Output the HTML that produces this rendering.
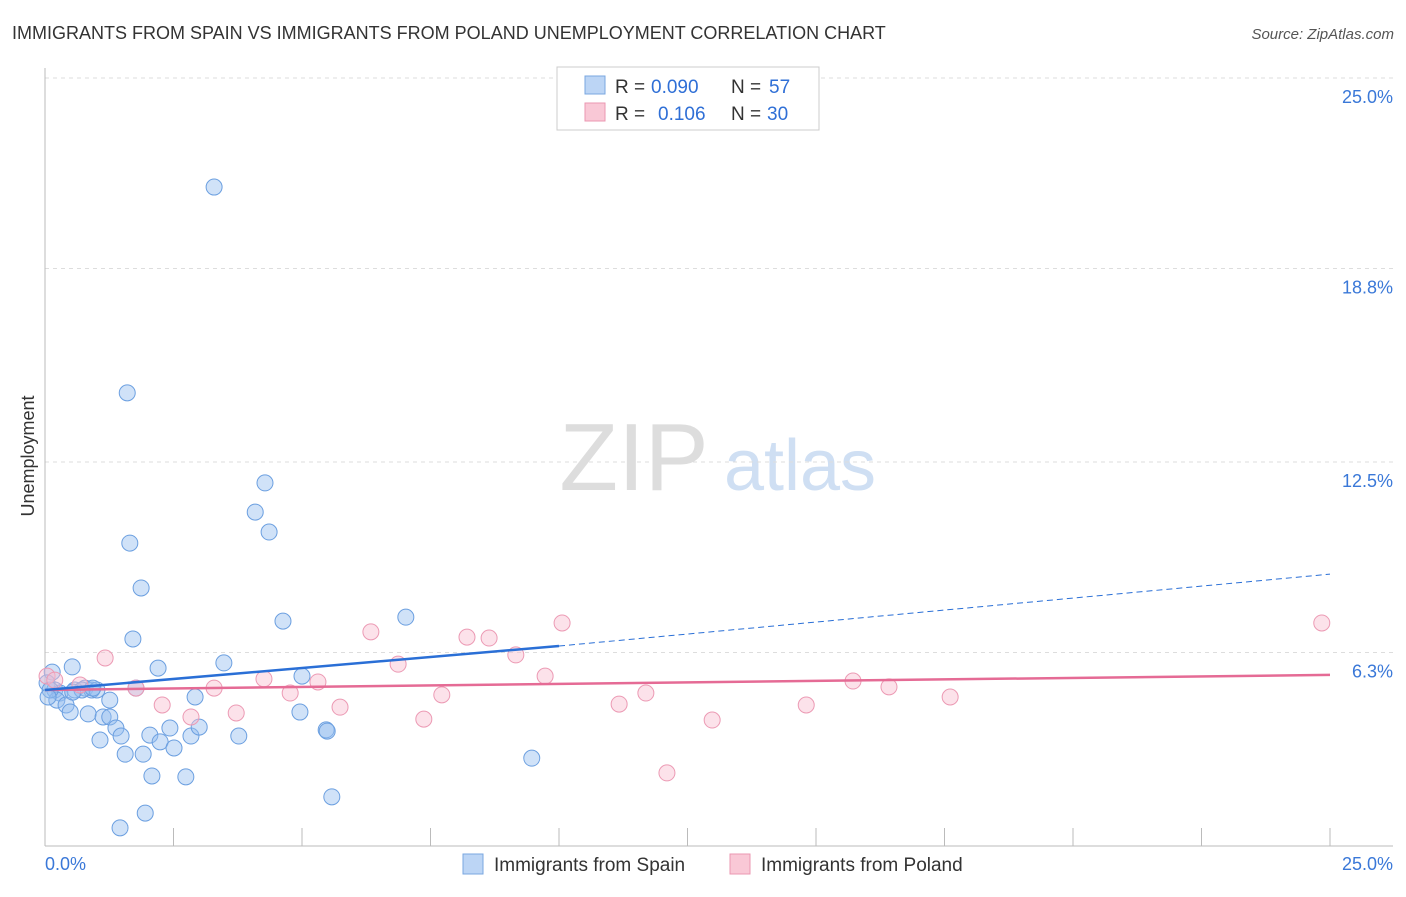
<!DOCTYPE html>
<html><head><meta charset="utf-8"><style>
body{margin:0;background:#fff;font-family:"Liberation Sans",sans-serif;}
svg text{font-family:"Liberation Sans",sans-serif;}
</style></head><body>
<svg id="chart" width="1406" height="892">
<text x="12" y="39" font-size="18" fill="#333">IMMIGRANTS FROM SPAIN VS IMMIGRANTS FROM POLAND UNEMPLOYMENT CORRELATION CHART</text>
<text x="1394" y="39" font-size="15" fill="#555" font-style="italic" text-anchor="end">Source: ZipAtlas.com</text>
<text x="34" y="456" font-size="18" fill="#333" text-anchor="middle" transform="rotate(-90 34 456)">Unemployment</text>
<g><text x="634" y="490" font-size="96" fill="#ddd" font-family="Liberation Serif" text-anchor="middle">ZIP</text><text x="800" y="490" font-size="72" fill="#cfdff3" text-anchor="middle">atlas</text></g>
<g id="grid"></g><g id="marks"></g>
<g>
<rect x="557" y="67" width="262" height="63" fill="#fff" stroke="#ccc"/>
<rect x="585" y="76" width="20" height="18" fill="#bcd5f5" stroke="#7aa7e0"/>
<rect x="585" y="103" width="20" height="18" fill="#f9c8d6" stroke="#eb97b1"/>
<text x="615" y="93" font-size="19" fill="#333">R =</text>
<text x="651" y="93" font-size="19" fill="#2f6fd6">0.090</text>
<text x="731" y="93" font-size="19" fill="#333">N =</text>
<text x="769" y="93" font-size="19" fill="#2f6fd6">57</text>
<text x="615" y="120" font-size="19" fill="#333">R =</text>
<text x="658" y="120" font-size="19" fill="#2f6fd6">0.106</text>
<text x="731" y="120" font-size="19" fill="#333">N =</text>
<text x="767" y="120" font-size="19" fill="#2f6fd6">30</text>
</g>
<g>
<rect x="463" y="854" width="20" height="20" fill="#bcd5f5" stroke="#7aa7e0"/>
<text x="494" y="871" font-size="19" fill="#333">Immigrants from Spain</text>
<rect x="730" y="854" width="20" height="20" fill="#f9c8d6" stroke="#eb97b1"/>
<text x="761" y="871" font-size="19" fill="#333">Immigrants from Poland</text>
</g>
</svg>
<script>
const yTicks=[25.0,18.8,12.5,6.3];
const yTickLabels=["25.0%","18.8%","12.5%","6.3%"];
const xTickLabels=["0.0%","25.0%"];
const spainX=[3.29,1.60,4.28,4.09,4.36,1.65,1.87,1.71,4.63,7.02,3.48,2.20,0.53,0.14,0.04,0.19,0.29,0.58,0.78,0.91,1.01,1.26,0.23,0.41,0.49,0.84,1.13,1.26,1.38,1.48,1.07,1.56,1.91,2.04,2.24,2.43,2.51,2.84,3.00,2.92,3.77,4.96,5.00,5.47,5.49,2.08,2.74,9.47,5.58,1.95,1.46,1.77,0.72,0.10,0.06,0.93,0.54];
const spainY=[21.45,14.75,11.82,10.87,10.22,9.86,8.40,6.74,7.32,7.45,5.96,5.79,5.83,5.66,5.31,5.08,4.98,5.08,5.14,5.08,5.08,4.75,4.75,4.59,4.36,4.30,4.20,4.20,3.84,3.58,3.45,2.99,2.99,3.61,3.39,3.84,3.19,3.58,3.87,4.85,3.58,4.36,5.53,3.78,3.74,2.28,2.25,2.86,1.60,1.07,0.59,5.14,5.08,5.08,4.85,5.14,5.01];
const polandX=[0.04,0.19,0.68,1.17,1.77,2.28,2.84,3.29,3.72,4.26,4.77,5.31,5.74,6.34,6.87,7.37,7.72,8.21,8.64,9.16,9.73,10.06,11.17,11.69,12.10,12.98,14.81,15.72,16.42,17.61,24.84];
const polandY=[5.53,5.40,5.24,6.12,5.14,4.59,4.20,5.14,4.33,5.44,4.98,5.34,4.52,6.97,5.92,4.13,4.92,6.80,6.77,6.22,5.53,7.26,4.62,4.98,2.38,4.10,4.59,5.37,5.18,4.85,7.26];
const spainTrend=[5.08,6.51,8.85]; // y at x=0,10,25
const polandTrend=[5.08,5.57]; // y at x=0,25
const X=v=>45+v*51.4, Y=v=>846-v*30.72;
const NS="http://www.w3.org/2000/svg";
function mk(p,t,a){const e=document.createElementNS(NS,t);for(const k in a)e.setAttribute(k,a[k]);p.appendChild(e);return e;}
const g=document.getElementById('grid'), m=document.getElementById('marks');
yTicks.forEach((t,i)=>{
 const l=mk(g,'line',{x1:45,x2:1393,y1:Y(t),y2:Y(t),stroke:'#ddd','stroke-dasharray':'4,4'});
 
 
 const tx=mk(g,'text',{x:1393,y:Y(t)+25,'font-size':18,fill:'#3a78d8','text-anchor':'end'});tx.textContent=yTickLabels[i];
 
 
});
mk(g,'line',{x1:45,x2:45,y1:68,y2:846,stroke:'#bbb'});
mk(g,'line',{x1:45,x2:1393,y1:846,y2:846,stroke:'#bbb'});
for(let i=0;i<=10;i++){const t=mk(g,'line',{x1:X(i*2.5),x2:X(i*2.5),y1:828,y2:846,stroke:'#bbb'});
 
 }
[[0,'start',45],[25,'end',1393]].forEach((d,i)=>{const tx=mk(g,'text',{x:d[2],y:870,'font-size':18,fill:'#3a78d8','text-anchor':d[1]});tx.textContent=xTickLabels[i];
 
 });
spainX.forEach((x,i)=>{const c=mk(m,'circle',{cx:X(x),cy:Y(spainY[i]),r:8,fill:'rgba(150,190,240,0.45)',stroke:'#6b9fe0','stroke-width':1});
 
 });
polandX.forEach((x,i)=>{const c=mk(m,'circle',{cx:X(x),cy:Y(polandY[i]),r:8,fill:'rgba(248,190,208,0.45)',stroke:'#ec9ab4','stroke-width':1});
 
 });
const pl=mk(m,'line',{x1:X(0),y1:Y(polandTrend[0]),x2:X(25),y2:Y(polandTrend[1]),stroke:'#e56b95','stroke-width':2.5});


const sl=mk(m,'line',{x1:X(0),y1:Y(spainTrend[0]),x2:X(10),y2:Y(spainTrend[1]),stroke:'#2a6fd6','stroke-width':2.5});


const sd=mk(m,'line',{x1:X(10),y1:Y(spainTrend[1]),x2:X(25),y2:Y(spainTrend[2]),stroke:'#2a6fd6','stroke-width':1,'stroke-dasharray':'6,4'});


</script>
</body></html>
